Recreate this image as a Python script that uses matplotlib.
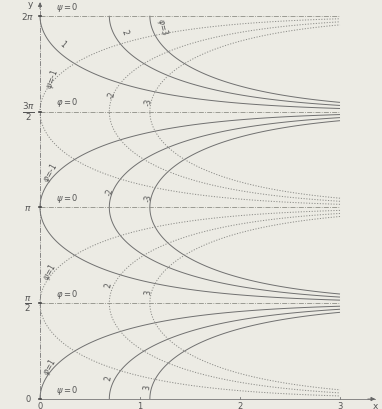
import numpy as np
import matplotlib.pyplot as plt

# Level values of the two families of w = e^z (phi = e^x cos y, psi = e^x sin y)
phi_levels = [-3, -2, -1, 1, 2, 3]
psi_levels = [-3, -2, -1, 1, 2, 3]
x_max = 3.0

# Horizontal zero lines and their labels
zero_y = [0, np.pi / 2, np.pi, 3 * np.pi / 2, 2 * np.pi]
zero_labels = [r"$\psi=0$", r"$\varphi=0$", r"$\psi=0$", r"$\varphi=0$", r"$\psi=0$"]
y_tick_labels = ["0", r"$\frac{\pi}{2}$", r"$\pi$", r"$\frac{3\pi}{2}$", r"$2\pi$"]
y_tick_sizes = [6, 9, 6.5, 9, 6.5]
x_ticks = [1, 2, 3]

# Curve labels: text, x, y, rotation
curve_labels = [
    ("1", 0.23, 5.82, -40), ("2", 0.85, 6.02, -70), (r"$\varphi$=3", 1.23, 6.12, -75),
    (r"$\psi$=-1", 0.12, 5.25, 70), ("-2", 0.72, 5.0, 80), ("-3", 1.08, 4.89, 85),
    (r"$\varphi$=-1", 0.10, 3.72, 60), ("-2", 0.70, 3.41, 80), ("-3", 1.08, 3.31, 85),
    (r"$\psi$=1", 0.10, 2.10, 60), ("2", 0.68, 1.88, 80), ("3", 1.08, 1.77, 85),
    (r"$\varphi$=1", 0.10, 0.54, 60), ("2", 0.68, 0.36, 80), ("3", 1.07, 0.21, 85),
]

paper = "#ecebe4"
ink = "#707070"

fig = plt.figure(figsize=(3.82, 4.10), dpi=100, facecolor=paper)
ax = fig.add_axes([0, 0, 1, 1])
ax.set_facecolor(paper)
ax.set_xlim(-0.40, 3.42)
ax.set_ylim(-0.164, 6.557)
ax.axis("off")

# Field on a fine grid
x = np.linspace(0, x_max, 900)
y = np.linspace(0, 2 * np.pi, 1800)
X, Y = np.meshgrid(x, y)
phi = np.exp(X) * np.cos(Y)
psi = np.exp(X) * np.sin(Y)

ax.contour(X, Y, phi, levels=phi_levels, colors=ink, linewidths=0.7,
           linestyles="solid")
ax.contour(X, Y, psi, levels=psi_levels, colors="#8c8c88", linewidths=0.7,
           linestyles=[(0, (1.2, 1.6))])

# Zero lines
for yv, lab in zip(zero_y, zero_labels):
    if yv > 0:
        ax.plot([0, x_max], [yv, yv], color="#8d8d85", lw=0.6,
                ls=(0, (6, 1.5, 1, 1.5)))
    ax.text(0.27, yv + 0.05, lab, fontsize=6, color="#555", ha="center",
            va="bottom")

# Axes
ax.plot([0, 0], [0, 6.5], color="#777", lw=0.6, ls=(0, (6, 1.5, 1, 1.5)))
ax.annotate("", xy=(0, 6.55), xytext=(0, 6.35),
            arrowprops=dict(arrowstyle="-|>", color="#666", lw=0.6,
                            mutation_scale=6))
ax.plot([0, 3.35], [0, 0], color="#777", lw=0.6)
ax.annotate("", xy=(3.38, 0), xytext=(3.25, 0),
            arrowprops=dict(arrowstyle="-|>", color="#666", lw=0.6,
                            mutation_scale=6))
ax.text(-0.1, 6.48, "y", fontsize=6.5, color="#555", ha="center", va="center")
ax.text(3.35, -0.1, "x", fontsize=6.5, color="#555", ha="center", va="center")

for yv, lab, fs in zip(zero_y, y_tick_labels, y_tick_sizes):
    ax.text(-0.12, yv, lab, fontsize=fs, color="#555", ha="center",
            va="center")
    ax.plot([-0.01, 0.01], [yv, yv], color="#444", lw=1.2)
ax.text(0, -0.1, "0", fontsize=6, color="#555", ha="center", va="center")
for xv in x_ticks:
    ax.plot([xv, xv], [0, 0.04], color="#777", lw=0.6)
    ax.text(xv, -0.1, str(xv), fontsize=6, color="#555", ha="center",
            va="center")

for txt, tx, ty, rot in curve_labels:
    ax.text(tx, ty, txt, fontsize=5.5, color="#555", ha="center", va="center",
            rotation=rot)

fig.savefig("out.png", dpi=100, facecolor=paper)
